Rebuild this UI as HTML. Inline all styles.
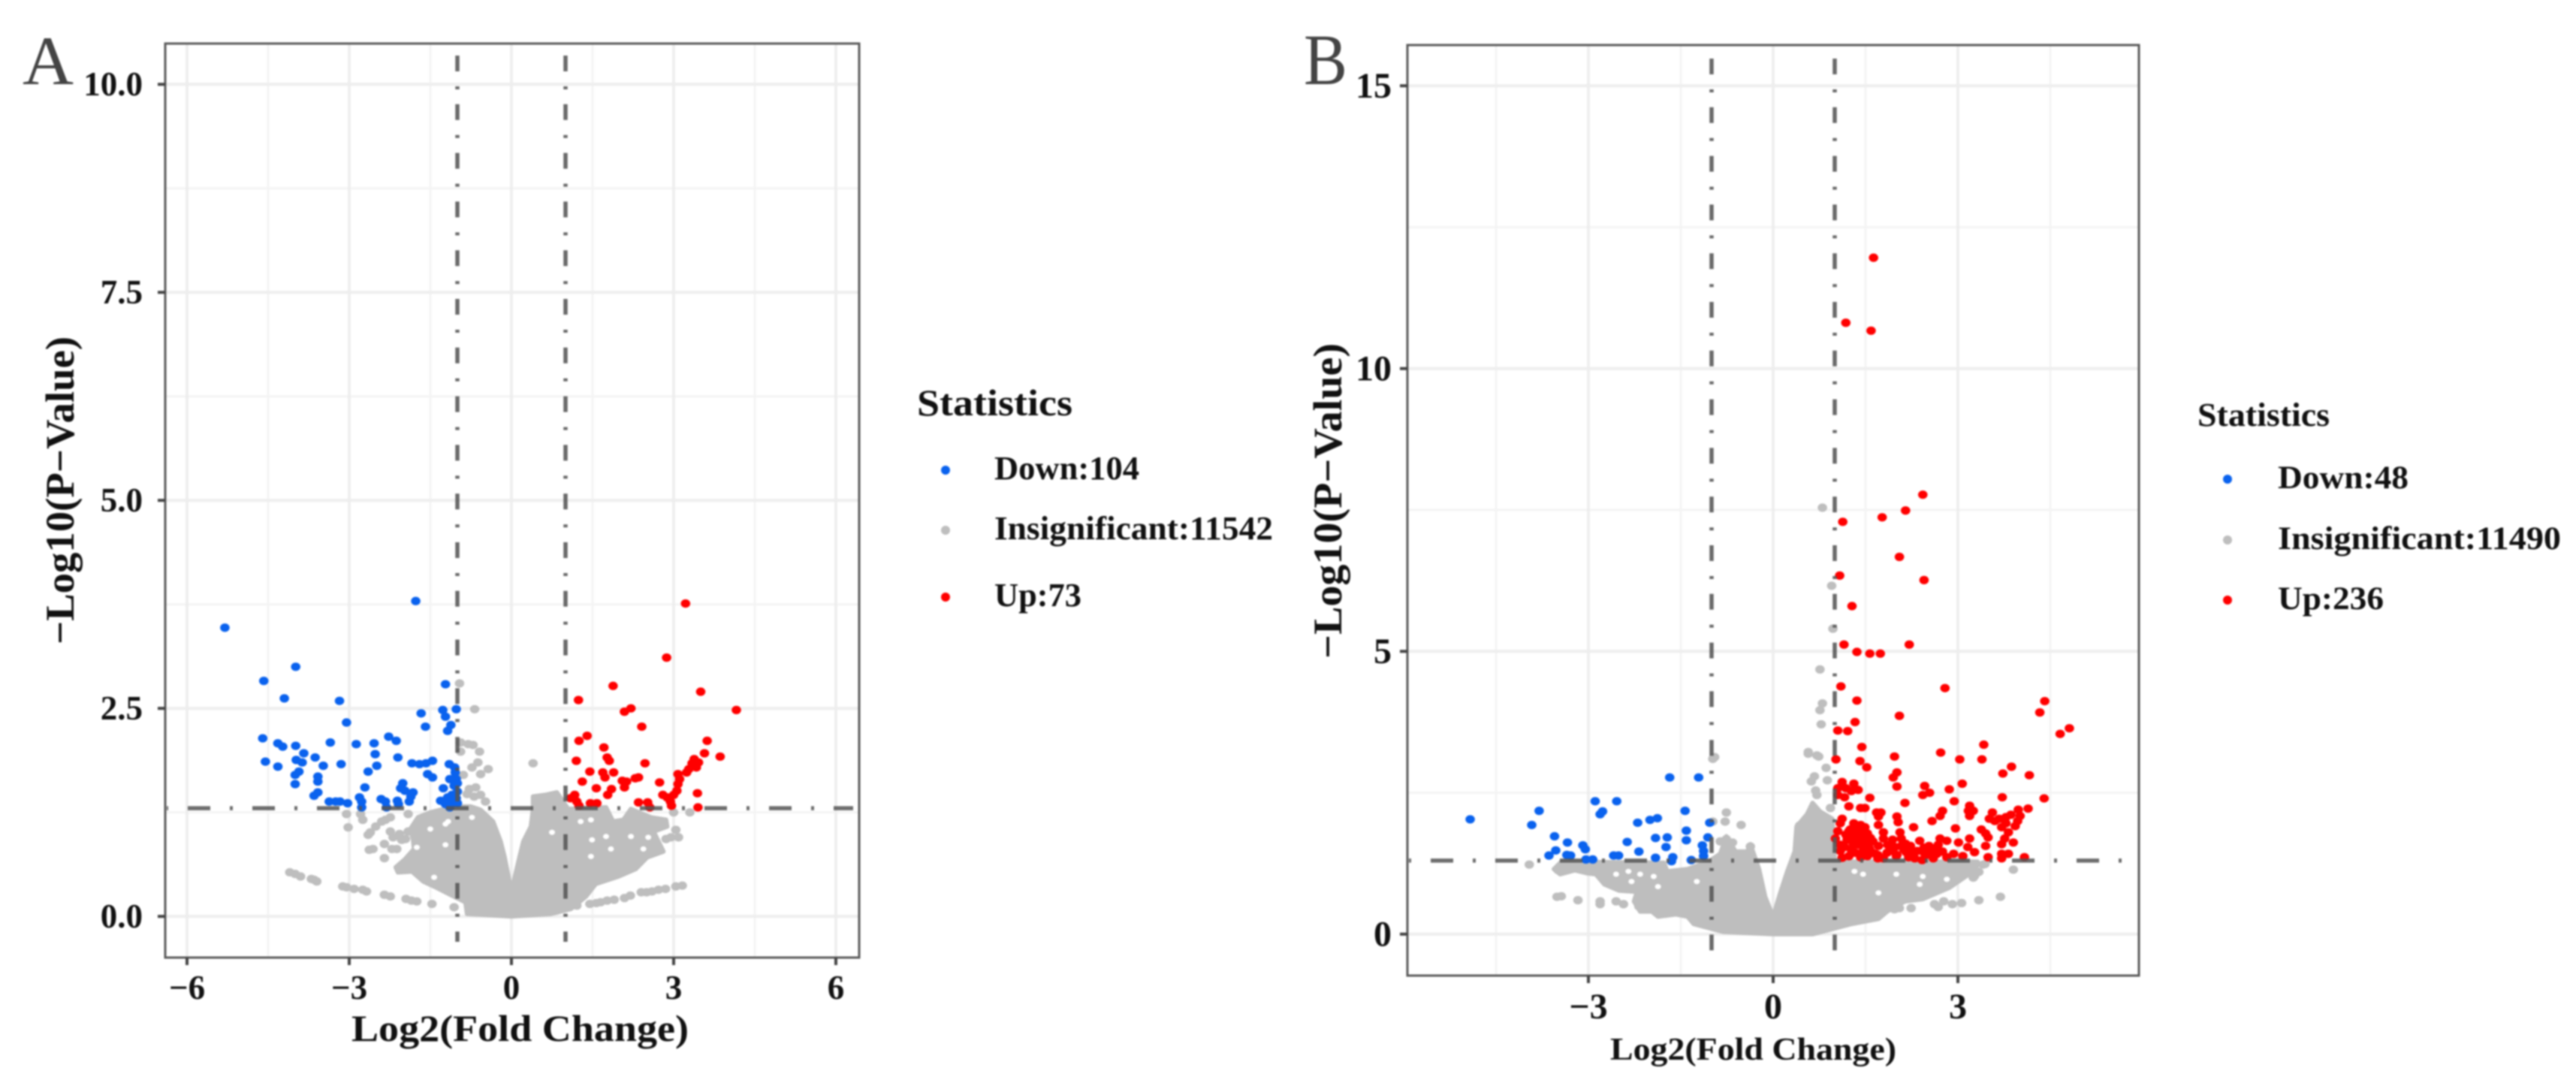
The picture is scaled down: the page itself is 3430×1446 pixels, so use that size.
<!DOCTYPE html>
<html lang="en">
<head>
<meta charset="utf-8">
<title>Volcano plots A and B</title>
<style>
html,body{margin:0;padding:0;background:#fff;}
#figure{display:block;width:3430px;height:1446px;filter:blur(1.1px);background:#fff;}
text{font-family:"Liberation Serif",serif;font-weight:bold;fill:#111;}
</style>
</head>
<body>
<svg id="figure" xmlns="http://www.w3.org/2000/svg" width="3430" height="1446" viewBox="0 0 3430 1446">
  <rect x="0" y="0" width="3430" height="1446" fill="#fff"/>
  <g id="panelA"></g>
  <g id="panelB"></g>

  <text x="30" y="112" font-size="92" textLength="68" lengthAdjust="spacingAndGlyphs" style="font-weight:normal;fill:#444">A</text>
  <text x="1736" y="112" font-size="96" textLength="58" lengthAdjust="spacingAndGlyphs" style="font-weight:normal;fill:#444">B</text>

  <text x="468" y="1386" font-size="50" textLength="449" lengthAdjust="spacingAndGlyphs">Log2(Fold Change)</text>
  <text transform="translate(98,858) rotate(-90)" x="0" y="0" font-size="54" textLength="410" lengthAdjust="spacingAndGlyphs">−Log10(P−Value)</text>
  <text x="2144" y="1411" font-size="42" textLength="381" lengthAdjust="spacingAndGlyphs">Log2(Fold Change)</text>
  <text transform="translate(1786,877) rotate(-90)" x="0" y="0" font-size="54" textLength="420" lengthAdjust="spacingAndGlyphs">−Log10(P−Value)</text>

  <g>
    <text x="1221" y="553" font-size="50" textLength="207" lengthAdjust="spacingAndGlyphs">Statistics</text>
    <circle cx="1259" cy="626" r="6" fill="#0a62ee"/>
    <text x="1324" y="638" font-size="44" textLength="193" lengthAdjust="spacingAndGlyphs">Down:104</text>
    <circle cx="1259" cy="706" r="6" fill="#bebebe"/>
    <text x="1324" y="718" font-size="44" textLength="371" lengthAdjust="spacingAndGlyphs">Insignificant:11542</text>
    <circle cx="1259" cy="795" r="6" fill="#ff0000"/>
    <text x="1324" y="807" font-size="44" textLength="116" lengthAdjust="spacingAndGlyphs">Up:73</text>
  </g>

  <g>
    <text x="2926" y="567" font-size="44" textLength="176" lengthAdjust="spacingAndGlyphs">Statistics</text>
    <circle cx="2966" cy="638" r="6" fill="#0a62ee"/>
    <text x="3033" y="650" font-size="43" textLength="174" lengthAdjust="spacingAndGlyphs">Down:48</text>
    <circle cx="2966" cy="719" r="6" fill="#bebebe"/>
    <text x="3033" y="731" font-size="43" textLength="377" lengthAdjust="spacingAndGlyphs">Insignificant:11490</text>
    <circle cx="2966" cy="799" r="6" fill="#ff0000"/>
    <text x="3033" y="811" font-size="43" textLength="141" lengthAdjust="spacingAndGlyphs">Up:236</text>
  </g>
</svg>
<script>
const aXTicks = [-6,-3,0,3,6];
const aXTickLabels = ["−6","−3","0","3","6"];
const aXMinor = [-4.5,-1.5,1.5,4.5];
const aYTicks = [0,2.5,5,7.5,10];
const aYTickLabels = ["0.0","2.5","5.0","7.5","10.0"];
const aYMinor = [1.25,3.75,6.25,8.75];
const aXDomain = [-6.403,6.431];
const aYDomain = [-0.495,10.49];

const bXTicks = [-3,0,3];
const bXTickLabels = ["−3","0","3"];
const bXMinor = [-4.5,-1.5,1.5,4.5];
const bYTicks = [0,5,10,15];
const bYTickLabels = ["0","5","10","15"];
const bXDomain = [-5.939,5.939];
const bYDomain = [-0.733,15.72];
const bYMinor = [2.5,7.5,12.5];

const pThreshold = 1.3;
const fcThresholds = [-1,1];

const aDown = [[-5.30,3.47],[-1.77,3.79],[-3.99,3.00],[-4.58,2.83],[-4.20,2.62],[-3.18,2.59],[-1.22,2.79],[-3.05,2.33],[-1.67,2.44],[-1.27,2.48],[-1.02,2.49],[-1.22,2.40],[-1.59,2.28],[-1.12,2.30],[-1.18,2.23],[-4.60,2.14],[-4.32,2.08],[-4.23,2.04],[-3.99,2.05],[-3.35,2.09],[-2.87,2.07],[-2.54,2.08],[-2.27,2.16],[-2.13,2.11],[-3.84,1.96],[-2.52,1.95],[-2.10,1.91],[-4.55,1.86],[-3.98,1.88],[-3.87,1.85],[-3.63,1.91],[-4.32,1.80],[-3.48,1.81],[-3.15,1.83],[-2.49,1.81],[-2.65,1.74],[-1.84,1.84],[-1.70,1.83],[-1.58,1.84],[-1.46,1.87],[-1.15,1.83],[-1.05,1.79],[-1.04,1.73],[-3.93,1.74],[-4.00,1.70],[-4.00,1.59],[-3.58,1.68],[-3.58,1.62],[-1.55,1.71],[-1.46,1.67],[-2.71,1.55],[-2.01,1.60],[-2.05,1.54],[-1.97,1.51],[-1.82,1.49],[-1.86,1.44],[-1.89,1.38],[-1.14,1.65],[-1.02,1.65],[-1.26,1.54],[-1.06,1.57],[-3.58,1.49],[-3.65,1.45],[-3.37,1.38],[-3.25,1.38],[-3.17,1.38],[-3.03,1.36],[-2.81,1.43],[-2.77,1.38],[-2.77,1.31],[-2.41,1.41],[-2.33,1.38],[-2.31,1.31],[-2.11,1.39],[-2.09,1.35],[-1.31,1.39],[-1.18,1.43],[-1.10,1.46],[-1.22,1.35],[-1.10,1.36],[-1.00,1.36],[-1.14,1.31],[-1.00,1.60],[-1.00,1.50],[-1.02,1.42]];

const aUp = [[3.22,3.76],[2.87,3.11],[1.88,2.77],[3.50,2.70],[1.24,2.60],[2.21,2.50],[2.09,2.46],[4.16,2.48],[2.41,2.28],[1.40,2.17],[1.25,2.11],[3.62,2.11],[1.71,2.03],[3.57,1.96],[1.77,1.91],[1.81,1.87],[1.20,1.87],[2.47,1.84],[3.86,1.92],[3.38,1.89],[3.46,1.85],[3.34,1.84],[3.42,1.79],[3.28,1.77],[3.24,1.73],[3.08,1.71],[3.11,1.65],[3.08,1.59],[1.45,1.74],[1.69,1.73],[1.89,1.73],[1.73,1.67],[1.31,1.62],[2.05,1.63],[2.13,1.62],[2.09,1.55],[2.29,1.66],[2.35,1.67],[1.57,1.54],[2.74,1.61],[1.85,1.53],[1.78,1.46],[3.06,1.51],[3.00,1.46],[2.80,1.46],[2.88,1.43],[3.44,1.48],[1.17,1.46],[1.09,1.42],[1.21,1.38],[1.25,1.33],[1.46,1.36],[1.58,1.36],[2.35,1.37],[2.52,1.37],[2.56,1.31],[2.94,1.38],[2.96,1.33],[3.45,1.31]];

const aGrayScatter = [[-0.68,2.49],[-0.96,2.80],[0.40,1.84],[-0.94,2.09],[-0.80,2.07],[-0.71,2.06],[-0.94,1.98],[-0.59,1.98],[-0.62,1.85],[-0.73,1.79],[-0.57,1.71],[-0.43,1.77],[-0.89,1.70],[-0.78,1.53],[-0.66,1.55],[-0.57,1.46],[-0.48,1.38],[-0.82,1.47],[-0.69,1.44],
[-4.1,0.53],[-4.0,0.51],[-3.9,0.48],[-3.7,0.45],[-3.65,0.44],[-3.6,0.42],[-3.12,0.36],[-3.05,0.35],[-2.91,0.33],[-2.75,0.32],[-2.68,0.30],[-2.35,0.26],[-2.24,0.24],[-1.95,0.21],[-1.85,0.19],[-1.75,0.18],[-1.47,0.15],[-1.06,0.11],
[1.21,0.13],[1.45,0.15],[1.57,0.16],[1.65,0.17],[1.77,0.19],[1.9,0.20],[2.09,0.22],[2.2,0.25],[2.40,0.29],[2.5,0.29],[2.6,0.30],[2.72,0.32],[2.85,0.33],[3.04,0.36],[3.16,0.37],
[-3.02,1.07],[-3.05,1.23],[-2.79,1.23],[-2.75,1.16],[-2.61,1.01],[-2.65,0.98],[-2.51,1.08],[-2.40,1.14],[-2.24,1.19],[-2.33,1.16],[-1.91,1.23],[-2.24,1.02],[-2.19,0.95],[-2.35,0.87],[-2.21,0.81],[-2.12,0.81],[-2.63,0.80],[-2.56,0.81],[-2.35,0.70],[-2.03,0.92],[-1.96,0.93],[-2.07,0.99],[-1.91,1.02],
[3.04,1.04],[3.09,0.95],[2.86,0.93],[2.72,0.81],[2.51,0.74],[3.30,1.25],[2.63,1.10],[2.95,0.95],[3.00,1.25]];

const aGrayRegion = [[0,0],[-0.82,0.03],[-0.85,0.17],[-1.13,0.26],[-1.40,0.35],[-1.63,0.42],[-1.84,0.54],[-2.10,0.53],[-2.14,0.59],[-1.98,0.68],[-1.80,0.81],[-1.82,0.93],[-1.87,1.05],[-1.73,1.19],[-1.50,1.25],[-1.31,1.28],[-0.94,1.32],[-0.75,1.32],[-0.57,1.28],[-0.34,1.14],[-0.20,0.90],[-0.13,0.72],[0,0.30],[0.13,0.66],[0.22,0.90],[0.36,1.08],[0.40,1.29],[0.40,1.44],[0.63,1.46],[0.84,1.49],[1.05,1.29],[1.75,1.31],[1.88,1.14],[2.07,1.16],[2.21,1.29],[2.58,1.19],[2.86,1.16],[2.88,1.08],[2.63,1.02],[2.81,0.78],[2.51,0.71],[2.30,0.57],[1.98,0.48],[1.56,0.39],[1.38,0.24],[1.10,0.09],[0.73,0.03]];

const aGrayGaps = [[-1.22,0.86],[-1.75,0.83],[0.75,1.01],[1.49,0.92],[1.84,0.81],[1.47,0.72],[-1.43,0.47],[-1.50,1.05],[-0.73,1.19],[1.28,1.14],[1.47,1.16],[1.75,0.96],[2.53,0.95],[2.21,0.96],[2.44,0.81],[-1.17,1.14],[-1.22,1.11]];

const bDown = [[-4.92,2.03],[-3.80,2.18],[-3.92,1.93],[-2.89,2.35],[-2.54,2.35],[-1.68,2.77],[-1.21,2.77],[-2.77,2.17],[-2.81,2.12],[-2.20,1.97],[-2.00,2.02],[-1.88,2.05],[-1.43,2.18],[-1.03,1.97],[-1.41,1.83],[-1.41,1.66],[-1.06,1.71],[-1.72,1.71],[-1.91,1.70],[-2.37,1.63],[-3.55,1.73],[-3.34,1.62],[-3.09,1.57],[-3.05,1.50],[-3.53,1.48],[-3.64,1.39],[-1.74,1.54],[-1.15,1.57],[-1.13,1.47],[-2.18,1.46],[-3.35,1.40],[-3.29,1.39],[-2.59,1.39],[-2.51,1.39],[-1.91,1.35],[-1.63,1.36],[-1.65,1.29],[-3.04,1.32],[-2.93,1.32],[-1.33,1.31],[-1.13,1.38]];

const bUp = [[1.63,11.96],[1.18,10.81],[1.59,10.67],[2.43,7.77],[2.15,7.49],[1.77,7.37],[1.13,7.29],[2.05,6.67],[1.08,6.34],[2.45,6.26],[1.28,5.80],[1.15,5.12],[2.21,5.12],[1.36,4.99],[1.57,4.96],[1.74,4.96],
[1.10,4.38],[2.79,4.35],[1.36,4.13],[4.41,4.12],[4.33,3.92],[2.05,3.86],[1.33,3.75],[1.05,3.60],[1.21,3.59],[4.81,3.64],[4.66,3.54],[3.42,3.35],[1.44,3.31],[2.72,3.21],[1.97,3.14],[3.03,3.09],[3.39,3.09],[1.02,3.09],[1.41,3.06],[1.52,2.95],[3.87,2.96],[3.73,2.84],[4.16,2.81],[2.01,2.86],[1.95,2.77],[2.01,2.61],[3.07,2.66],[2.86,2.56],[2.46,2.62],[2.43,2.46],[2.54,2.50],[3.72,2.42],[4.40,2.40],[1.12,2.69],[1.05,2.58],[1.18,2.58],[1.05,2.46],[1.16,2.42],[1.31,2.66],[1.27,2.53],[1.38,2.55],[1.57,2.41],[2.14,2.32],[2.94,2.35],[1.23,2.26],[1.42,2.23],[1.49,2.23],[1.68,2.15],[1.75,2.15],[1.71,2.08],[4.14,2.22],[3.98,2.20],[2.75,2.18],[2.71,2.09],[2.58,2.00],[3.19,2.27],[3.17,2.18],[3.25,2.18],[3.19,2.09],[2.01,2.08],[2.03,1.98],[3.56,2.15],[3.51,2.04],[3.67,2.04],[3.60,2.00],[3.78,2.07],[3.86,2.11],[4.01,2.09],[3.97,2.00],[3.78,1.96],[3.93,1.91],[3.71,1.89],[1.12,2.04],[1.09,1.96],[1.31,1.96],[1.42,1.93],[1.49,1.89],[1.71,1.93],[2.28,1.89],[2.96,1.87],[3.38,1.85],[3.45,1.78],[3.82,1.80],[3.49,1.71],[3.76,1.69],[1.79,1.80],[2.06,1.80],[1.05,1.82],[1.23,1.82],[1.38,1.82],[1.53,1.78],[1.01,1.69],[1.20,1.67],[1.38,1.69],[1.49,1.69],[1.79,1.69],[1.94,1.67],[2.08,1.69],[2.38,1.65],[2.71,1.69],[3.19,1.69],[3.01,1.62],[2.82,1.65],[3.45,1.56],[3.71,1.59],[3.90,1.62],[1.09,1.58],[1.38,1.58],[1.53,1.56],[1.71,1.56],[1.86,1.58],[2.08,1.56],[2.23,1.56],[2.53,1.56],[2.68,1.58],[3.16,1.54],[1.09,1.47],[1.27,1.49],[1.46,1.47],[1.60,1.45],[1.94,1.47],[2.16,1.45],[2.34,1.47],[2.56,1.47],[2.93,1.42],[3.27,1.45],[3.71,1.42],[3.82,1.42],[1.23,1.38],[1.42,1.36],[1.53,1.38],[1.79,1.34],[2.01,1.40],[2.20,1.36],[2.42,1.31],[2.60,1.34],[2.82,1.36],[3.08,1.38],[3.49,1.36],[3.71,1.34],[4.08,1.36],[1.12,1.35],[1.33,1.44],[1.56,1.52],[1.66,1.42],[1.85,1.44],[1.98,1.54],[2.12,1.50],[2.28,1.42],[2.45,1.53],[2.66,1.42],[1.16,1.54],[1.30,1.60],[1.44,1.60],[1.62,1.64],[1.70,1.34],[2.30,1.34],[2.48,1.40],[1.18,1.76],[1.36,1.74],[1.46,1.76],[1.58,1.70],[1.32,1.73],[1.46,1.81],[1.37,1.90],[1.50,1.60],[1.25,1.85],[1.55,1.52],[1.70,1.40],[1.90,1.50],[2.00,1.38],[2.15,1.60],[2.22,1.47],[2.45,1.44],[2.55,1.40],[2.62,1.50],[2.75,1.46]];

const bGrayScatter = [[0.80,7.54],[0.95,6.16],[0.97,5.40],[0.76,4.68],[0.80,4.08],[0.76,3.96],[0.78,3.71],[0.57,3.22],[0.71,3.16],[-0.95,3.13],[0.67,2.79],[0.62,2.70],[0.69,2.54],[0.71,2.46],[0.86,2.94],[0.88,2.72],[0.57,3.19],[0.74,3.14],[-0.98,3.10],[-0.76,2.15],[-0.78,1.99],[-0.52,1.93],[-0.98,1.99],[0.43,1.92],[-0.76,1.68],[-0.86,1.64],[-0.66,1.62],[-0.37,1.55],[-0.64,1.42],[0.93,2.23],
[-3.51,0.66],[-3.44,0.67],[-3.17,0.60],[-2.81,0.58],[-2.81,0.53],[-2.55,0.58],[-2.43,0.53],[-2.18,0.49],[-2.12,0.45],[1.97,0.44],[2.05,0.46],[2.24,0.46],[2.62,0.53],[2.68,0.48],[2.77,0.58],[2.91,0.53],[3.06,0.55],[3.34,0.60],[3.69,0.66],[3.25,1.00],[-3.49,1.13],[-3.96,1.23],[3.44,1.24],[3.90,1.14],[3.27,1.03],[3.41,1.23],[3.34,1.10]];

const bGrayRegion = [[0,0],[-0.81,0.04],[-1.29,0.18],[-1.39,0.31],[-1.58,0.35],[-1.87,0.31],[-1.97,0.40],[-2.16,0.40],[-2.26,0.58],[-2.21,0.75],[-2.50,0.77],[-2.74,0.88],[-2.88,1.06],[-3.03,1.08],[-3.22,1.13],[-3.46,1.06],[-3.56,1.15],[-3.44,1.28],[-1.77,1.26],[-1.72,1.11],[-1.39,1.15],[-1.05,1.28],[-0.86,1.42],[-0.76,1.73],[-0.61,1.46],[-0.42,1.46],[-0.37,1.59],[-0.30,1.37],[-0.23,1.15],[-0.13,0.66],[0,0.31],[0.11,0.71],[0.23,1.11],[0.35,1.46],[0.38,1.90],[0.55,2.12],[0.64,2.32],[0.76,2.17],[0.96,2.04],[1.00,1.28],[3.32,1.28],[3.30,1.15],[3.06,0.97],[2.86,0.82],[2.43,0.62],[2.14,0.58],[1.85,0.40],[1.71,0.27],[1.27,0.18],[0.64,0]];

const bGrayGaps = [[-1.87,0.84],[-2.30,0.93],[-2.55,1.06],[-2.35,1.11],[-2.16,1.06],[-1.94,1.02],[-1.24,0.93],[1.32,1.11],[2.00,1.06],[2.43,1.02],[2.82,0.97],[1.71,0.73],[1.46,1.06],[2.38,0.88]];

const SVGNS = 'http://www.w3.org/2000/svg';

function linearScale(domain, r0, r1) {
  return function (v) { return r0 + (v - domain[0]) / (domain[1] - domain[0]) * (r1 - r0); };
}

function drawPanel(root, cfg) {
  const sx = linearScale(cfg.xDomain, cfg.left, cfg.right);
  const sy = linearScale(cfg.yDomain, cfg.bottom, cfg.top);

  cfg.xMinor.forEach(function (v) {
    const el = document.createElementNS(SVGNS, 'line');
    
    
    el.setAttribute('x1', sx(v)); el.setAttribute('x2', sx(v));
    el.setAttribute('y1', cfg.top); el.setAttribute('y2', cfg.bottom);
    el.setAttribute('stroke', '#f4f4f4'); el.setAttribute('stroke-width', '3');
    root.appendChild(el);
  });
  cfg.yMinor.forEach(function (v) {
    const el = document.createElementNS(SVGNS, 'line');
    
    
    el.setAttribute('x1', cfg.left); el.setAttribute('x2', cfg.right);
    el.setAttribute('y1', sy(v)); el.setAttribute('y2', sy(v));
    el.setAttribute('stroke', '#f4f4f4'); el.setAttribute('stroke-width', '3');
    root.appendChild(el);
  });
  cfg.xTicks.forEach(function (v) {
    const el = document.createElementNS(SVGNS, 'line');
    
    
    el.setAttribute('x1', sx(v)); el.setAttribute('x2', sx(v));
    el.setAttribute('y1', cfg.top); el.setAttribute('y2', cfg.bottom);
    el.setAttribute('stroke', '#eeeeee'); el.setAttribute('stroke-width', '4');
    root.appendChild(el);
  });
  cfg.yTicks.forEach(function (v) {
    const el = document.createElementNS(SVGNS, 'line');
    
    
    el.setAttribute('x1', cfg.left); el.setAttribute('x2', cfg.right);
    el.setAttribute('y1', sy(v)); el.setAttribute('y2', sy(v));
    el.setAttribute('stroke', '#eeeeee'); el.setAttribute('stroke-width', '4');
    root.appendChild(el);
  });

  const region = document.createElementNS(SVGNS, 'polygon');
  
  
  region.setAttribute('points', cfg.grayRegion.map(function (p) { return sx(p[0]) + ',' + sy(p[1]); }).join(' '));
  region.setAttribute('fill', '#bebebe');
  region.setAttribute('stroke', '#bebebe');
  region.setAttribute('stroke-width', '6');
  region.setAttribute('stroke-linejoin', 'round');
  root.appendChild(region);

  cfg.grayGaps.forEach(function (p) {
    const el = document.createElementNS(SVGNS, 'ellipse');
    
    
    el.setAttribute('cx', sx(p[0])); el.setAttribute('cy', sy(p[1]));
    el.setAttribute('rx', '4'); el.setAttribute('ry', '3.5');
    el.setAttribute('fill', '#ffffff');
    root.appendChild(el);
  });
  cfg.grayScatter.forEach(function (p) {
    const el = document.createElementNS(SVGNS, 'ellipse');
    
    
    el.setAttribute('cx', sx(p[0])); el.setAttribute('cy', sy(p[1]));
    el.setAttribute('rx', '6.3'); el.setAttribute('ry', '5.6');
    el.setAttribute('fill', '#bebebe');
    root.appendChild(el);
  });
  cfg.down.forEach(function (p) {
    const el = document.createElementNS(SVGNS, 'ellipse');
    
    
    el.setAttribute('cx', sx(p[0])); el.setAttribute('cy', sy(p[1]));
    el.setAttribute('rx', '6.3'); el.setAttribute('ry', '5.6');
    el.setAttribute('fill', '#0a62ee');
    root.appendChild(el);
  });
  cfg.up.forEach(function (p) {
    const el = document.createElementNS(SVGNS, 'ellipse');
    
    
    el.setAttribute('cx', sx(p[0])); el.setAttribute('cy', sy(p[1]));
    el.setAttribute('rx', '6.3'); el.setAttribute('ry', '5.6');
    el.setAttribute('fill', '#ff0000');
    root.appendChild(el);
  });

  fcThresholds.forEach(function (v) {
    const el = document.createElementNS(SVGNS, 'line');
    
    
    el.setAttribute('x1', sx(v)); el.setAttribute('x2', sx(v));
    el.setAttribute('y1', cfg.vStart); el.setAttribute('y2', cfg.vEnd);
    el.setAttribute('stroke', '#555'); el.setAttribute('stroke-opacity', '0.88');
    el.setAttribute('stroke-width', '5.5');
    el.setAttribute('stroke-dasharray', '21 20 4 19.8');
    root.appendChild(el);
  });
  const hLine = document.createElementNS(SVGNS, 'line');
  
  
  hLine.setAttribute('x1', cfg.hStart); hLine.setAttribute('x2', cfg.hEnd);
  hLine.setAttribute('y1', sy(pThreshold)); hLine.setAttribute('y2', sy(pThreshold));
  hLine.setAttribute('stroke', '#555'); hLine.setAttribute('stroke-opacity', '0.85');
  hLine.setAttribute('stroke-width', '5.5');
  hLine.setAttribute('stroke-dasharray', '30 26 4 26');
  hLine.setAttribute('stroke-dashoffset', cfg.hOffset);
  root.appendChild(hLine);

  const frame = document.createElementNS(SVGNS, 'rect');
  
  
  frame.setAttribute('x', cfg.left); frame.setAttribute('y', cfg.top);
  frame.setAttribute('width', cfg.right - cfg.left); frame.setAttribute('height', cfg.bottom - cfg.top);
  frame.setAttribute('fill', 'none'); frame.setAttribute('stroke', '#5a5a5a'); frame.setAttribute('stroke-width', '3');
  root.appendChild(frame);

  cfg.xTicks.forEach(function (v, i) {
    const tick = document.createElementNS(SVGNS, 'line');
    
    
    tick.setAttribute('x1', sx(v)); tick.setAttribute('x2', sx(v));
    tick.setAttribute('y1', cfg.bottom); tick.setAttribute('y2', cfg.bottom + 10);
    tick.setAttribute('stroke', '#444'); tick.setAttribute('stroke-width', '4');
    root.appendChild(tick);
    const label = document.createElementNS(SVGNS, 'text');
    
    
    label.setAttribute('x', sx(v));
    label.setAttribute('y', cfg.xLabelY);
    label.setAttribute('font-size', cfg.tickFont);
    label.setAttribute('text-anchor', 'middle');
    label.textContent = cfg.xTickLabels[i];
    root.appendChild(label);
  });
  cfg.yTicks.forEach(function (v, i) {
    const tick = document.createElementNS(SVGNS, 'line');
    
    
    tick.setAttribute('x1', cfg.left - 10); tick.setAttribute('x2', cfg.left);
    tick.setAttribute('y1', sy(v)); tick.setAttribute('y2', sy(v));
    tick.setAttribute('stroke', '#444'); tick.setAttribute('stroke-width', '4');
    root.appendChild(tick);
    const label = document.createElementNS(SVGNS, 'text');
    
    
    label.setAttribute('x', cfg.yLabelX);
    label.setAttribute('y', sy(v) + cfg.tickFont * 0.33);
    label.setAttribute('font-size', cfg.tickFont);
    label.setAttribute('text-anchor', 'end');
    label.textContent = cfg.yTickLabels[i];
    root.appendChild(label);
  });
}

drawPanel(document.getElementById('panelA'), {
  left: 220, right: 1144, top: 58, bottom: 1275,
  xDomain: aXDomain, yDomain: aYDomain,
  xTicks: aXTicks, xTickLabels: aXTickLabels, xMinor: aXMinor,
  yTicks: aYTicks, yTickLabels: aYTickLabels, yMinor: aYMinor,
  down: aDown, up: aUp, grayScatter: aGrayScatter, grayRegion: aGrayRegion, grayGaps: aGrayGaps,
  vStart: 74, vEnd: 1254, hStart: 222, hEnd: 1136, hOffset: 58,
  tickFont: 45, xLabelY: 1330, yLabelX: 190
});
drawPanel(document.getElementById('panelB'), {
  left: 1874, right: 2848, top: 60, bottom: 1299,
  xDomain: bXDomain, yDomain: bYDomain,
  xTicks: bXTicks, xTickLabels: bXTickLabels, xMinor: bXMinor,
  yTicks: bYTicks, yTickLabels: bYTickLabels, yMinor: bYMinor,
  down: bDown, up: bUp, grayScatter: bGrayScatter, grayRegion: bGrayRegion, grayGaps: bGrayGaps,
  vStart: 78, vEnd: 1278, hStart: 1876, hEnd: 2840, hOffset: 57,
  tickFont: 48, xLabelY: 1356, yLabelX: 1853
});
</script>
</body>
</html>
